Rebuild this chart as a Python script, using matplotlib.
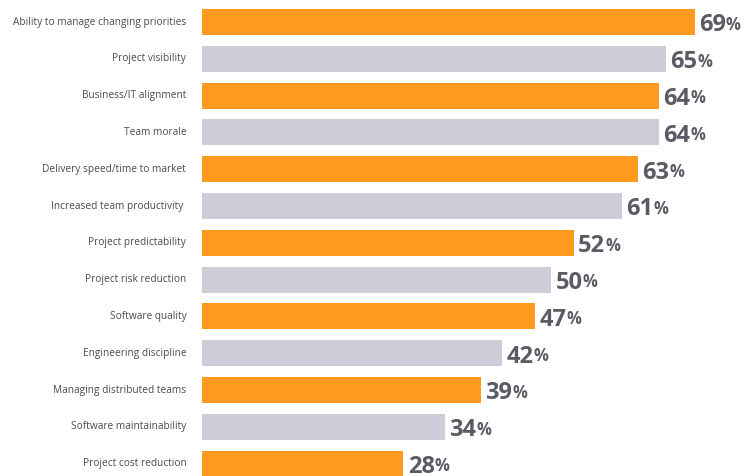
import matplotlib.pyplot as plt

categories = [
    "Ability to manage changing priorities",
    "Project visibility",
    "Business/IT alignment",
    "Team morale",
    "Delivery speed/time to market",
    "Increased team productivity ",
    "Project predictability",
    "Project risk reduction",
    "Software quality",
    "Engineering discipline",
    "Managing distributed teams",
    "Software maintainability",
    "Project cost reduction",
]
values = [69, 65, 64, 64, 63, 61, 52, 50, 47, 42, 39, 34, 28]
# bar lengths as drawn in the source picture (not always equal to the label)
bar_lengths = [69, 65, 64, 64, 61.1, 58.8, 52.1, 48.9, 46.7, 42, 39.1, 34, 28.2]

orange = "#FF9A1E"
grey = "#CDCDD9"
text_grey = "#5B5B66"

plt.rcParams['font.family'] = ['Open Sans', 'DejaVu Sans']

fig = plt.figure(figsize=(7.44, 4.76), dpi=100)
ax = fig.add_axes([202 / 744, 0, 1 - 202 / 744, 1])

colors = [orange if i % 2 == 0 else grey for i in range(len(values))]
ypos = list(range(len(values)))
ax.barh(ypos, bar_lengths, height=0.707, color=colors)

spacing = 36.8
top = -22 / spacing
bottom = (476 - 22) / spacing
ax.set_ylim(bottom, top)
ax.set_xlim(0, (744 - 202) / 7.14)
ax.axis("off")

for y, name, v, w in zip(ypos, categories, values, bar_lengths):
    ax.text(-2.2, y, name, ha="right", va="center", fontsize=7.25,
            color="#4a4a4a")
    t = ax.text(w + 0.6, y + 0.09, str(v), ha="left", va="center",
                fontsize=17, fontweight="bold", color=text_grey)
    ax.annotate("%", xycoords=t, xy=(1, 0), xytext=(0, 2.5),
                textcoords="offset points", ha="left", va="bottom",
                fontsize=12, fontweight="bold", color=text_grey)

fig.savefig("out.png", dpi=100)
